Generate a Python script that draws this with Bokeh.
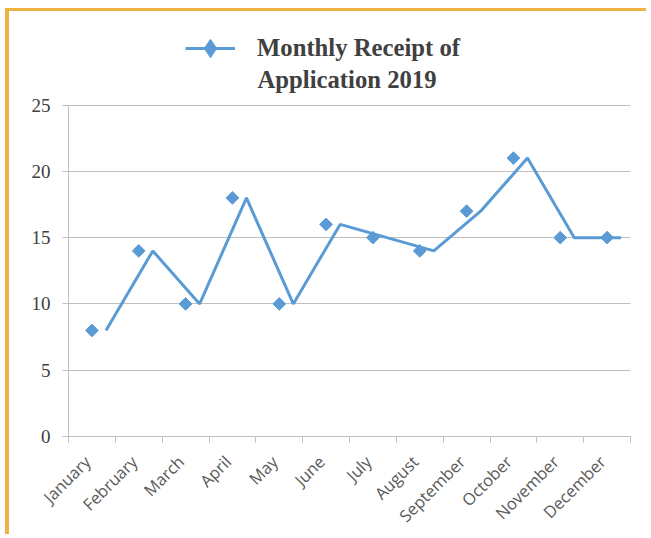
import math
import numpy as np
from bokeh.plotting import figure
from bokeh.models import (Range1d, FixedTicker, Legend, LegendItem, Label, ColumnDataSource)
from bokeh.embed import file_html
from bokeh.resources import INLINE

months = ["January", "February", "March", "April", "May", "June", "July",
          "August", "September", "October", "November", "December"]
receipts = [8, 14, 10, 18, 10, 16, 15, 14, 17, 21, 15, 15]
y_ticks = [0, 5, 10, 15, 20, 25]
title_lines = ["Monthly Receipt of", "Application 2019"]

BLUE = "#5B9BD5"
GRID = "#BFBFBF"
ORANGE = "#EDB144"

n = len(months)
centers = np.arange(n) + 0.5
bounds = list(range(n + 1))
label_pos = centers - 0.1

p = figure(width=641, height=526, output_backend="svg", toolbar_location=None,
           x_range=Range1d(0, n), y_range=Range1d(0, 31.38),
           min_border_left=59, min_border_right=20, min_border_top=9, min_border_bottom=99)
p.outline_line_color = None
p.background_fill_color = "white"
p.border_fill_color = "white"
p.styles = {"border-top": f"3px solid {ORANGE}", "border-left": f"4px solid {ORANGE}",
            "margin-left": "5px", "margin-top": "8px"}

src_pts = ColumnDataSource(dict(x=centers, y=receipts))
src_line = ColumnDataSource(dict(x=centers + 0.3, y=receipts))

lr = p.line("x", "y", source=src_line, line_color=BLUE, line_width=3)
sr = p.scatter("x", "y", source=src_pts, marker="square", size=9, angle=math.pi / 4,
               fill_color=BLUE, line_color=BLUE)
# legend-only marker (hidden in the plot)
lg = p.scatter("x", "y", source=src_pts, marker="diamond", fill_color=BLUE, line_color=BLUE)
lg.visible = False

# axes
p.xaxis.ticker = FixedTicker(ticks=list(label_pos), minor_ticks=bounds)
p.xaxis.major_label_overrides = {float(c): m for c, m in zip(label_pos, months)}
p.xaxis.major_label_orientation = math.pi / 4
p.xaxis.major_tick_line_color = None
p.xaxis.major_tick_out = 6
p.xaxis.major_tick_in = 0
p.xaxis.minor_tick_line_color = GRID
p.xaxis.minor_tick_out = 6
p.xaxis.minor_tick_in = 0
p.xaxis.axis_line_color = GRID
p.xaxis.major_label_text_font = "Open Sans"
p.xaxis.major_label_text_font_size = "16.5px"
p.xaxis.major_label_text_color = "#595959"
p.xaxis.major_label_standoff = 16

p.yaxis.ticker = FixedTicker(ticks=y_ticks, minor_ticks=[])
p.yaxis.bounds = (0, 25)
p.yaxis.axis_line_color = GRID
p.yaxis.major_tick_line_color = GRID
p.yaxis.major_tick_out = 6
p.yaxis.major_tick_in = 0
p.yaxis.minor_tick_line_color = None
p.yaxis.major_label_text_font = "Liberation Serif"
p.yaxis.major_label_text_font_size = "19px"
p.yaxis.major_label_text_color = "#404040"
p.yaxis.major_label_standoff = 12

p.xgrid.grid_line_color = None
p.ygrid.ticker = FixedTicker(ticks=y_ticks[1:], minor_ticks=[])
p.ygrid.grid_line_color = GRID

legend = Legend(items=[LegendItem(label=title_lines[0], renderers=[lr, lg])],
                location=(117, 365), orientation="vertical", click_policy="none")
legend.label_text_font = "Liberation Serif"
legend.label_text_font_style = "bold"
legend.label_text_font_size = "24.7px"
legend.label_text_color = "#404040"
legend.glyph_width = 50
legend.glyph_height = 46
legend.label_standoff = 22
legend.padding = 0
legend.margin = 0
legend.border_line_color = None
legend.background_fill_alpha = 0
legend.inactive_fill_alpha = 0
legend.label_height = 24
p.add_layout(legend)

p.add_layout(Label(x=4.036, y=26.95, text=title_lines[1], text_font="Liberation Serif",
                   text_font_style="bold", text_font_size="24.7px", text_color="#404040",
                   text_baseline="middle"))

open("out.html", "w").write(file_html(p, INLINE))
